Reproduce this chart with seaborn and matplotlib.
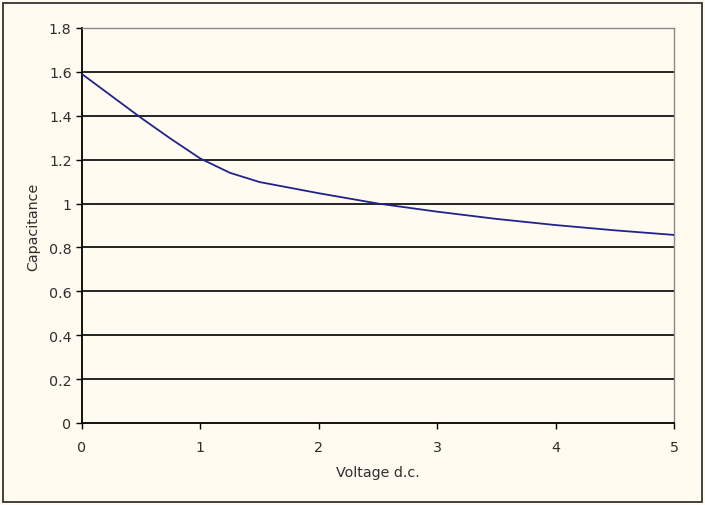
import numpy as np
import pandas as pd
import seaborn as sns
import matplotlib
matplotlib.use('Agg')
import matplotlib.pyplot as plt
from matplotlib.patches import Rectangle

# values
voltage = [0, 0.25, 0.5, 0.75, 1.0, 1.25, 1.5, 2.0, 2.5, 3.0, 3.5, 4.0, 4.5, 5.0]
capacitance = [1.59, 1.49, 1.39, 1.295, 1.205, 1.14, 1.098, 1.047, 1.0, 0.963, 0.93, 0.902, 0.878, 0.857]
y_ticks = [0, 0.2, 0.4, 0.6, 0.8, 1, 1.2, 1.4, 1.6, 1.8]
y_labels = ['0', '0.2', '0.4', '0.6', '0.8', '1', '1.2', '1.4', '1.6', '1.8']
x_ticks = [0, 1, 2, 3, 4, 5]

df = pd.DataFrame({'Voltage d.c.': voltage, 'Capacitance': capacitance})

sns.set_theme(style='white')
plt.rcParams['font.family'] = ['DejaVu Sans']

bg = '#fffbf0'
txt = '#2e2e2e'
fs = 10.3
fig = plt.figure(figsize=(7.05, 5.06), dpi=100, facecolor=bg)
ax = fig.add_axes([82 / 705, 82 / 506, 592 / 705, 395 / 506])
ax.set_facecolor(bg)

# horizontal gridlines
for t in y_ticks[1:]:
    ax.axhline(t, color='black', lw=1.2, zorder=1)

sns.lineplot(data=df, x='Voltage d.c.', y='Capacitance', ax=ax,
             color='#22228c', lw=1.3, zorder=3)

ax.set_xlim(0, 5)
ax.set_ylim(0, 1.8)
ax.set_xticks(x_ticks)
ax.set_yticks(y_ticks)
ax.set_yticklabels(y_labels)
ax.tick_params(axis='both', direction='out', length=4, width=1, color='black',
               labelsize=fs, labelcolor=txt, left=True, bottom=True)
ax.tick_params(axis='y', pad=3.5)
ax.tick_params(axis='x', pad=8)
ax.set_xlabel('Voltage d.c.', fontsize=fs, color=txt, labelpad=8)
ax.set_ylabel('Capacitance', fontsize=fs, color=txt, labelpad=6)

for side in ['left', 'bottom']:
    ax.spines[side].set_color('black')
    ax.spines[side].set_linewidth(1.3)
for side in ['top', 'right']:
    ax.spines[side].set_color('#888888')
    ax.spines[side].set_linewidth(1.0)

# outer chart border
fig.patches.append(Rectangle((0.004, 0.006), 0.992, 0.986, transform=fig.transFigure,
                             fill=False, edgecolor='#333333', lw=1.3))

fig.savefig('out.png', dpi=100, facecolor=bg)
